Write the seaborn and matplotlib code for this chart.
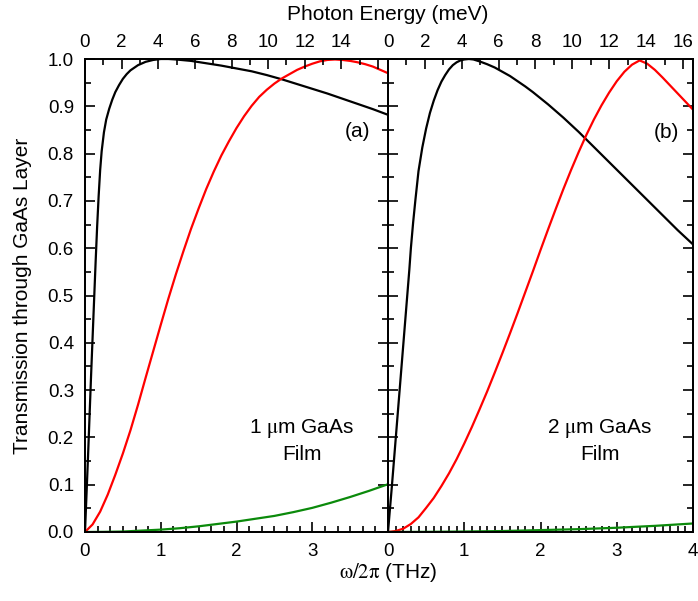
import matplotlib
matplotlib.use("Agg")
import matplotlib.pyplot as plt
from matplotlib.ticker import MultipleLocator, FixedLocator, FixedFormatter
import pandas as pd
import seaborn as sns

MEV_PER_THZ = 4.135667

# ---- 1 um GaAs film (panel a) ----
freq_black_1um = [0, 0.02, 0.04, 0.06, 0.08, 0.10, 0.12, 0.14, 0.16, 0.18, 0.20, 0.22, 0.25,
                  0.28, 0.32, 0.36, 0.40, 0.45, 0.50, 0.55, 0.60, 0.70, 0.80, 0.90, 1.00, 1.10,
                  1.20, 1.40, 1.60, 1.80, 2.00, 2.20, 2.40, 2.60, 2.80, 3.00, 3.20, 3.40, 3.60,
                  3.80, 4.00]
trans_black_1um = [0, 0.08, 0.16, 0.245, 0.33, 0.41, 0.49, 0.57, 0.645, 0.71, 0.765, 0.805,
                   0.845, 0.872, 0.895, 0.914, 0.930, 0.945, 0.958, 0.968, 0.976, 0.987, 0.994,
                   0.998, 1.0, 1.0, 0.999, 0.996, 0.991, 0.986, 0.980, 0.974, 0.966, 0.957,
                   0.947, 0.937, 0.927, 0.916, 0.905, 0.894, 0.882]

freq_red_1um = [0, 0.1, 0.2, 0.3, 0.4, 0.5, 0.6, 0.7, 0.8, 0.9, 1.0, 1.1, 1.2, 1.3, 1.4, 1.5,
                1.6, 1.7, 1.8, 1.9, 2.0, 2.1, 2.2, 2.3, 2.4, 2.5, 2.6, 2.7, 2.8, 2.9, 3.0, 3.1,
                3.2, 3.3, 3.4, 3.5, 3.6, 3.7, 3.8, 3.9, 4.0]
trans_red_1um = [0, 0.016, 0.043, 0.079, 0.121, 0.166, 0.215, 0.269, 0.326, 0.382, 0.438,
                 0.493, 0.545, 0.594, 0.641, 0.684, 0.725, 0.762, 0.796, 0.826, 0.854, 0.879,
                 0.901, 0.920, 0.935, 0.948, 0.959, 0.968, 0.977, 0.984, 0.990, 0.995, 0.998,
                 0.999, 0.998, 0.996, 0.993, 0.989, 0.984, 0.977, 0.970]

freq_green_1um = [0, 0.25, 0.5, 0.75, 1.0, 1.25, 1.5, 1.75, 2.0, 2.25, 2.5, 2.75, 3.0, 3.25,
                  3.5, 3.75, 4.0]
trans_green_1um = [0, 0.0003, 0.001, 0.003, 0.005, 0.008, 0.012, 0.017, 0.022, 0.028, 0.034,
                   0.042, 0.051, 0.062, 0.074, 0.087, 0.101]

# ---- 2 um GaAs film (panel b) ----
freq_black_2um = [0, 0.05, 0.10, 0.15, 0.20, 0.25, 0.28, 0.30, 0.33, 0.36, 0.40, 0.45, 0.50,
                  0.55, 0.60, 0.65, 0.70, 0.75, 0.80, 0.85, 0.90, 0.95, 1.00, 1.06, 1.12, 1.20,
                  1.30, 1.40, 1.50, 1.60, 1.70, 1.80, 1.90, 2.00, 2.10, 2.20, 2.30, 2.40, 2.50,
                  2.60, 2.70, 2.80, 2.90, 3.00, 3.10, 3.20, 3.30, 3.40, 3.50, 3.60, 3.70, 3.80,
                  3.90, 4.00]
trans_black_2um = [0, 0.095, 0.195, 0.295, 0.395, 0.495, 0.555, 0.600, 0.655, 0.703, 0.763,
                   0.813, 0.853, 0.886, 0.912, 0.934, 0.952, 0.966, 0.978, 0.987, 0.993, 0.997,
                   0.999, 1.0, 0.999, 0.995, 0.989, 0.982, 0.973, 0.964, 0.953, 0.942, 0.930,
                   0.917, 0.904, 0.890, 0.876, 0.861, 0.846, 0.830, 0.814, 0.798, 0.782, 0.766,
                   0.750, 0.734, 0.718, 0.702, 0.686, 0.670, 0.654, 0.638, 0.623, 0.608]

freq_red_2um = [0, 0.1, 0.2, 0.3, 0.4, 0.5, 0.6, 0.7, 0.8, 0.9, 1.0, 1.1, 1.2, 1.3, 1.4, 1.5,
                1.6, 1.7, 1.8, 1.9, 2.0, 2.1, 2.2, 2.3, 2.4, 2.5, 2.6, 2.7, 2.8, 2.9, 3.0, 3.1,
                3.2, 3.3, 3.4, 3.5, 3.6, 3.7, 3.8, 3.9, 4.0]
trans_red_2um = [0, 0.002, 0.007, 0.017, 0.031, 0.051, 0.072, 0.097, 0.124, 0.154, 0.187,
                 0.222, 0.259, 0.297, 0.337, 0.378, 0.420, 0.463, 0.507, 0.551, 0.596, 0.640,
                 0.683, 0.725, 0.765, 0.803, 0.839, 0.872, 0.902, 0.929, 0.953, 0.973, 0.988,
                 0.997, 0.990, 0.977, 0.961, 0.944, 0.927, 0.910, 0.893]

freq_green_2um = [0, 0.5, 1.0, 1.5, 2.0, 2.5, 3.0, 3.5, 4.0]
trans_green_2um = [0, 0.0003, 0.001, 0.002, 0.004, 0.006, 0.009, 0.013, 0.018]

y_ticks = [0.0, 0.1, 0.2, 0.3, 0.4, 0.5, 0.6, 0.7, 0.8, 0.9, 1.0]
thz_ticks = [0, 1, 2, 3, 4]
mev_ticks = [0, 2, 4, 6, 8, 10, 12, 14, 16]

COLORS = {"black": "#000000", "red": "#ff0000", "green": "#0b8a0b"}


def frame(pairs):
    parts = []
    for name, f, t in pairs:
        parts.append(pd.DataFrame({"freq": f, "trans": t, "curve": name}))
    return pd.concat(parts, ignore_index=True)


data_a = frame([("black", freq_black_1um, trans_black_1um),
                ("red", freq_red_1um, trans_red_1um),
                ("green", freq_green_1um, trans_green_1um)])
data_b = frame([("black", freq_black_2um, trans_black_2um),
                ("red", freq_red_2um, trans_red_2um),
                ("green", freq_green_2um, trans_green_2um)])

sns.set_theme(style="ticks")
plt.rcParams["font.family"] = ["Liberation Sans", "DejaVu Sans"]
plt.rcParams["mathtext.fontset"] = "stix"
plt.rcParams["axes.edgecolor"] = "black"
plt.rcParams["axes.linewidth"] = 1.3
plt.rcParams["text.color"] = "black"
plt.rcParams["axes.labelcolor"] = "black"
plt.rcParams["xtick.color"] = "black"
plt.rcParams["ytick.color"] = "black"

TICK_FS = 13.5
LABEL_FS = 15
NOTE_FS = 15

fig = plt.figure(figsize=(6.98, 6.01), dpi=100)
fig.patch.set_facecolor("white")
bottom, height = 69 / 601, 473 / 601
ax_a = fig.add_axes([85 / 698, bottom, 303 / 698, height])
ax_b = fig.add_axes([388 / 698, bottom, 305 / 698, height])

for ax, df in ((ax_a, data_a), (ax_b, data_b)):
    sns.lineplot(data=df, x="freq", y="trans", hue="curve", palette=COLORS,
                 estimator=None, sort=False, legend=False, linewidth=1.6, ax=ax)
    ax.set_xlim(0, 4)
    ax.set_ylim(0, 1.0)
    ax.set_xlabel("")
    ax.set_ylabel("")
    ax.set_facecolor("white")
    ax.yaxis.set_major_locator(FixedLocator(y_ticks))
    ax.yaxis.set_minor_locator(MultipleLocator(0.05))
    ax.tick_params(which="both", direction="in", left=True, right=True,
                   bottom=True, top=False, colors="black", width=1.2)
    ax.tick_params(which="major", length=7.5, labelsize=TICK_FS, pad=8)
    ax.tick_params(which="minor", length=4)
    for s in ax.spines.values():
        s.set_visible(True)
        s.set_linewidth(1.3)

    top = ax.twiny()
    top.set_xlim(0, 4 * MEV_PER_THZ)
    top.xaxis.set_major_locator(FixedLocator(mev_ticks))
    top.xaxis.set_minor_locator(MultipleLocator(1))
    top.tick_params(which="both", direction="in", top=True, bottom=False,
                    colors="black", width=1.2)
    top.tick_params(which="major", length=7.5, labelsize=TICK_FS, pad=6)
    top.tick_params(which="minor", length=4)
    if ax is ax_a:
        top.xaxis.set_major_formatter(FixedFormatter([str(v) for v in mev_ticks[:-1]] + [""]))
    else:
        top.xaxis.set_major_formatter(FixedFormatter([str(v) for v in mev_ticks]))

# bottom frequency axes
ax_a.xaxis.set_major_locator(FixedLocator(thz_ticks))
ax_a.xaxis.set_major_formatter(FixedFormatter(["0", "1", "2", "3", ""]))
ax_a.xaxis.set_minor_locator(MultipleLocator(1 / 6))
ax_b.xaxis.set_major_locator(FixedLocator(thz_ticks))
ax_b.xaxis.set_major_formatter(FixedFormatter([str(v) for v in thz_ticks]))
ax_b.xaxis.set_minor_locator(MultipleLocator(0.1))

ax_a.yaxis.set_major_formatter(FixedFormatter([f"{v:.1f}" for v in y_ticks]))
ax_b.tick_params(labelleft=False)

# panel annotations
ax_a.text(3.6, 0.846, "(a)", fontsize=NOTE_FS, ha="center", va="center")
ax_b.text(3.65, 0.845, "(b)", fontsize=NOTE_FS, ha="center", va="center")
ax_a.text(2.86, 0.193, "1 $\\mathrm{\\mu}$m GaAs\nFilm", fontsize=NOTE_FS,
          ha="center", va="center", linespacing=1.35)
ax_b.text(2.78, 0.193, "2 $\\mathrm{\\mu}$m GaAs\nFilm", fontsize=NOTE_FS,
          ha="center", va="center", linespacing=1.35)

# shared axis titles
fig.text(388 / 698, 1 - 573 / 601, "$\\mathrm{\\omega/2\\pi}$ (THz)", fontsize=LABEL_FS,
         ha="center", va="center")
fig.text(388 / 698, 1 - 15 / 601, "Photon Energy (meV)", fontsize=LABEL_FS,
         ha="center", va="center")
fig.text(23 / 698, 1 - 296 / 601, "Transmission through GaAs Layer", fontsize=LABEL_FS,
         ha="center", va="center", rotation=90)

fig.savefig("out.png", dpi=100, facecolor="white")
